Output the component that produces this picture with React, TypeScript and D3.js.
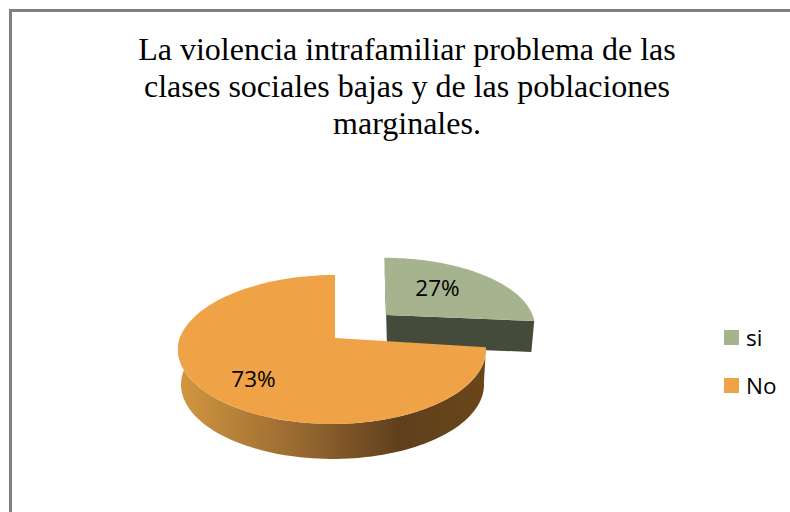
import React from "react";
import * as d3 from "d3";

const categories = ["si", "No"];
const shares = [27, 73];
const colors = ["#A6B38F", "#F0A246"];
const titleLines = [
  "La violencia intrafamiliar problema de las",
  "clases sociales bajas y de las poblaciones",
  "marginales.",
];

type Proj = { cx: number; cy: number; rx: number; ry: number; p: number; skew: number; front: number };

const topNo: Proj = { cx: 332, cy: 338, rx: 152.2, ry: 72.7, p: 0.154, skew: 3, front: 1 };
const botNo: Proj = { cx: 332.5, cy: 373, rx: 149.7, ry: 72.7, p: 0.154, skew: 3, front: 1 };
const topSi: Proj = { cx: 386.7, cy: 315, rx: 145.8, ry: 66, p: 0.154, skew: -2.4, front: 0.72 };
const botSi: Proj = { cx: 386.7, cy: 346, rx: 143, ry: 66, p: 0.154, skew: -2.4, front: 0.72 };

const project = (P: Proj, a: number): [number, number] => {
  const u = Math.sin(a);
  const v = -Math.cos(a);
  const s = 1 / (1 - P.p * v);
  return [
    P.cx + P.rx * u * s - P.skew * v * (v < 0 ? 1 : 0),
    P.cy + P.ry * v * s * (v > 0 ? P.front : 1),
  ];
};

const arcPts = (P: Proj, a0: number, a1: number, n = 90) =>
  d3.range(n + 1).map((i) => project(P, a0 + ((a1 - a0) * i) / n));

const line = d3.line();

const pieGen = d3.pie<number>().sort(null);

export default function App() {
  const [si, no] = pieGen(shares);
  const center = (P: Proj): [number, number] => [P.cx + (P === topNo ? 3 : 0), P.cy];

  const siTop = [center(topSi), ...arcPts(topSi, si.startAngle, si.endAngle)];
  const siFace = [
    center(topSi),
    project(topSi, si.endAngle),
    project(botSi, si.endAngle),
    [387, 346] as [number, number],
  ];
  const siLeft = [
    project(topSi, si.startAngle),
    center(topSi),
    [387, 346] as [number, number],
    [385.5, 300] as [number, number],
  ];
  const noTop = [center(topNo), ...arcPts(topNo, no.startAngle, no.endAngle)];
  const sideEnd = (272 / 180) * Math.PI;
  const noSide = [
    ...arcPts(topNo, no.startAngle, sideEnd),
    ...arcPts(botNo, no.startAngle, sideEnd).reverse(),
  ];
  const legendY = d3.scalePoint<string>().domain(categories).range([337.5, 385.5]);

  return (
    <svg
      width={790}
      height={512}
      style={{ position: "absolute", left: 0, top: 0, display: "block", background: "#fff" }}
    >
      <defs>
        <linearGradient id="side" gradientUnits="userSpaceOnUse" x1={178} x2={486} y1={0} y2={0}>
          <stop offset="0" stopColor="#D29740" />
          <stop offset="0.4" stopColor="#966830" />
          <stop offset="0.72" stopColor="#5F3F1C" />
          <stop offset="1" stopColor="#6A4619" />
        </linearGradient>
      </defs>
      <path d="M10.5 512V10.5H790" fill="none" stroke="#7F7F7F" strokeWidth={3} />
      {titleLines.map((t, i) => (
        <text
          key={t}
          x={407}
          y={60 + i * 37}
          textAnchor="middle"
          fontFamily="'Liberation Serif', serif"
          fontSize={32}
          fill="#000"
        >
          {t}
        </text>
      ))}
      <path d={line(siLeft)! + "Z"} fill="#454B3A" />
      <path d={line(siFace)! + "Z"} fill="#454B3A" />
      <path d={line(siTop)! + "Z"} fill={colors[0]} />
      <path d={line(noSide)! + "Z"} fill="url(#side)" />
      <path d={line(noTop)! + "Z"} fill={colors[1]} />
      <text x={437.5} y={296} textAnchor="middle" fontFamily="'Open Sans', sans-serif" fontSize={22.5} fill="#000">
        {shares[0]}%
      </text>
      <text x={253.5} y={387} textAnchor="middle" fontFamily="'Open Sans', sans-serif" fontSize={22.5} fill="#000">
        {shares[1]}%
      </text>
      {categories.map((c, i) => (
        <g key={c}>
          <rect x={724} y={legendY(c)! - 7.5} width={15} height={15} fill={colors[i]} />
          <text x={746} y={legendY(c)! + 8} fontFamily="'Open Sans', sans-serif" fontSize={22.5} fill="#000">
            {c}
          </text>
        </g>
      ))}
    </svg>
  );
}
